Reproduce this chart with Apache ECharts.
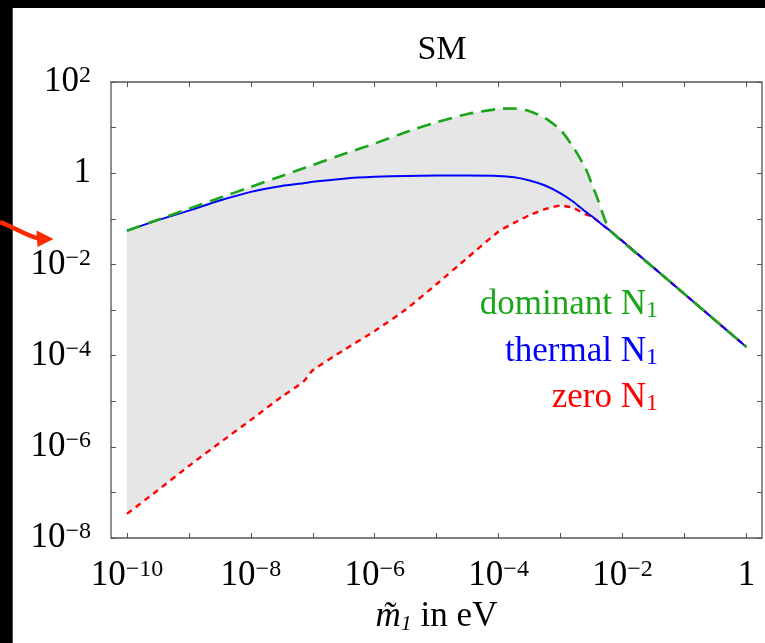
<!DOCTYPE html>
<html><head><meta charset="utf-8">
<script src="https://cdn.jsdelivr.net/npm/echarts@6/dist/echarts.min.js"></script>
<style>html,body{margin:0;padding:0;background:#fff}#c{width:765px;height:643px}</style>
</head><body><div id="c"></div>
<script>
// x positions: log10 of m1~ in eV
const xExp = [-10, -9.5, -9, -8.5, -8, -7.5, -7.15, -7, -6.5, -6, -5.5, -5, -4.5, -4, -3.75, -3.5, -3.25, -3, -2.8, -2.6, -2.5, -2.4, -2.3, -2.2, -1.5, -1, -0.5, 0];
// log10 of efficiency for each case
const dominantLog = [-1.26, -1.02, -0.78, -0.54, -0.30, -0.06, 0.11, 0.18, 0.42, 0.65, 0.90, 1.12, 1.30, 1.41, 1.42, 1.36, 1.21, 0.95, 0.58, 0.12, -0.22, -0.57, -0.96, -1.26, -2.07, -2.65, -3.23, -3.81];
const thermalLog  = [-1.26, -1.03, -0.82, -0.60, -0.41, -0.28, -0.22, -0.19, -0.12, -0.08, -0.06, -0.05, -0.05, -0.06, -0.09, -0.16, -0.27, -0.44, -0.62, -0.84, -0.94, -1.05, -1.16, -1.26, -2.07, -2.65, -3.23, -3.81];
const zeroLog     = [-7.47, -6.95, -6.42, -5.91, -5.41, -4.90, -4.57, -4.32, -3.88, -3.46, -2.99, -2.43, -1.85, -1.28, -1.09, -0.92, -0.79, -0.71, -0.76, -0.90, -0.95, -1.05, -1.16, -1.26, -2.07, -2.65, -3.23, -3.81];
const xTickExps = [-10, -9, -8, -7, -6, -5, -4, -3, -2, -1, 0];
const xLabelExps = [-10, -8, -6, -4, -2, 0];
const yTickExps = [-8, -7, -6, -5, -4, -3, -2, -1, 0, 1, 2];
const yLabelExps = [-8, -6, -4, -2, 0, 2];
const seriesNames = ['dominant N', 'thermal N', 'zero N'];
const titleText = 'SM';

const FONT = 'Liberation Serif';
const frameColor = '#555';
function powLabel(v) {
  if (v === 0) return '{b|1}';
  return '{b|10}{s|' + (v < 0 ? '\u2212' : '') + Math.abs(v) + '}';
}
const labelRich = {
  b: { fontFamily: FONT, fontSize: 35, color: '#000', lineHeight: 36 },
  s: { fontFamily: FONT, fontSize: 24, color: '#000', verticalAlign: 'top', lineHeight: 22 }
};
const zip = (xs, ys) => xs.map((x, i) => [x, ys[i]]);

const X_MIN = -10.258, X_MAX = 0.252, Y_MIN = -8, Y_MAX = 2;
const SMOOTH = 0.2;

const chart = echarts.init(document.getElementById('c'), null, { renderer: 'canvas' });
const commonTick = { show: true, inside: true, length: 5, lineStyle: { color: frameColor, width: 1 } };
const noLine = { show: false, onZero: false };
chart.setOption({
  animation: false,
  backgroundColor: '#fff',
  title: {
    text: titleText, left: 437, top: 28, textAlign: 'center',
    textStyle: { fontFamily: FONT, fontSize: 34, fontWeight: 'normal', color: '#000' }
  },
  grid: { left: 111, top: 82, right: 3, bottom: 105, show: true, borderColor: frameColor, borderWidth: 1.3,
          backgroundColor: 'transparent', outerBoundsMode: 'none', containLabel: false },
  xAxis: [
    {
      type: 'value', min: X_MIN, max: X_MAX, position: 'bottom', z: 10,
      axisLine: noLine, splitLine: { show: false },
      axisTick: Object.assign({ customValues: xTickExps }, commonTick),
      axisLabel: { customValues: xLabelExps, formatter: powLabel, rich: labelRich, margin: 20, verticalAlign: 'top' },
      name: '{m|m\u0303}{sub|1}{t| in eV}', nameLocation: 'middle', nameGap: 61,
      nameTextStyle: {
        rich: {
          m: { fontFamily: FONT, fontStyle: 'italic', fontSize: 35, color: '#000', lineHeight: 36 },
          sub: { fontFamily: FONT, fontStyle: 'italic', fontSize: 22, color: '#000', lineHeight: 10, verticalAlign: 'bottom' },
          t: { fontFamily: FONT, fontSize: 35, color: '#000', lineHeight: 36 }
        }
      }
    },
    {
      type: 'value', min: X_MIN, max: X_MAX, position: 'top', z: 10,
      axisLine: noLine, splitLine: { show: false },
      axisTick: Object.assign({ customValues: xTickExps }, commonTick),
      axisLabel: { show: false }
    }
  ],
  yAxis: [
    {
      type: 'value', min: Y_MIN, max: Y_MAX, position: 'left', z: 10,
      axisLine: noLine, splitLine: { show: false },
      axisTick: Object.assign({ customValues: yTickExps }, commonTick),
      axisLabel: { customValues: yLabelExps, formatter: powLabel, rich: labelRich, margin: 20 }
    },
    {
      type: 'value', min: Y_MIN, max: Y_MAX, position: 'right', z: 10,
      axisLine: noLine, splitLine: { show: false },
      axisTick: Object.assign({ customValues: yTickExps }, commonTick),
      axisLabel: { show: false }
    }
  ],
  series: [
    { name: 'band', type: 'custom', coordinateSystem: 'cartesian2d', xAxisIndex: 0, yAxisIndex: 0,
      data: [[xExp[0], zeroLog[0]]], silent: true, z: 1,
      renderItem: function (params, api) {
        const top = xExp.map((x, i) => api.coord([x, dominantLog[i]]));
        const bottom = xExp.map((x, i) => api.coord([x, zeroLog[i]])).reverse();
        return { type: 'polygon', shape: { points: top.concat(bottom) }, style: { fill: '#e6e6e6' } };
      }
    },
    { name: seriesNames[2] + '1', type: 'line', data: zip(xExp, zeroLog), symbol: 'none', smooth: SMOOTH,
      lineStyle: { color: '#ff0000', width: 2.4, type: [6, 5] }, z: 3 },
    { name: seriesNames[1] + '1', type: 'line', data: zip(xExp, thermalLog), symbol: 'none', smooth: SMOOTH,
      lineStyle: { color: '#0000ff', width: 2 }, z: 4 },
    { name: seriesNames[0] + '1', type: 'line', data: zip(xExp, dominantLog), symbol: 'none', smooth: SMOOTH,
      lineStyle: { color: '#1ba51b', width: 2.6, type: [14, 8] }, z: 5 }
  ],
  graphic: [
    { type: 'rect', shape: { x: 0, y: 0, width: 765, height: 8 }, style: { fill: '#000' }, z: 100 },
    { type: 'rect', shape: { x: 0, y: 0, width: 12.7, height: 643 }, style: { fill: '#000' }, z: 100 },
    { type: 'bezierCurve', shape: { x1: 0, y1: 222, cpx1: 14, cpy1: 227, cpx2: 26, cpy2: 236, x2: 39, y2: 238.5 },
      style: { stroke: '#ff2a00', lineWidth: 4.5, fill: null }, z: 101 },
    { type: 'polygon', shape: { points: [[36.5, 230.5], [53.5, 239], [37.5, 247]] }, style: { fill: '#ff2a00' }, z: 101 },
    { type: 'text', x: 658, y: 305, z: 50, style: { text: '{a|' + seriesNames[0] + '}{s|1}', align: 'right', verticalAlign: 'middle',
        rich: { a: { fontFamily: FONT, fontSize: 35, fill: '#1ba51b', lineHeight: 36 }, s: { fontFamily: FONT, fontSize: 24, fill: '#1ba51b', lineHeight: 12, verticalAlign: 'bottom' } } } },
    { type: 'text', x: 658, y: 352, z: 50, style: { text: '{a|' + seriesNames[1] + '}{s|1}', align: 'right', verticalAlign: 'middle',
        rich: { a: { fontFamily: FONT, fontSize: 35, fill: '#0000ff', lineHeight: 36 }, s: { fontFamily: FONT, fontSize: 24, fill: '#0000ff', lineHeight: 12, verticalAlign: 'bottom' } } } },
    { type: 'text', x: 658, y: 398, z: 50, style: { text: '{a|' + seriesNames[2] + '}{s|1}', align: 'right', verticalAlign: 'middle',
        rich: { a: { fontFamily: FONT, fontSize: 35, fill: '#ff0000', lineHeight: 36 }, s: { fontFamily: FONT, fontSize: 24, fill: '#ff0000', lineHeight: 12, verticalAlign: 'bottom' } } } }
  ]
});
</script></body></html>
